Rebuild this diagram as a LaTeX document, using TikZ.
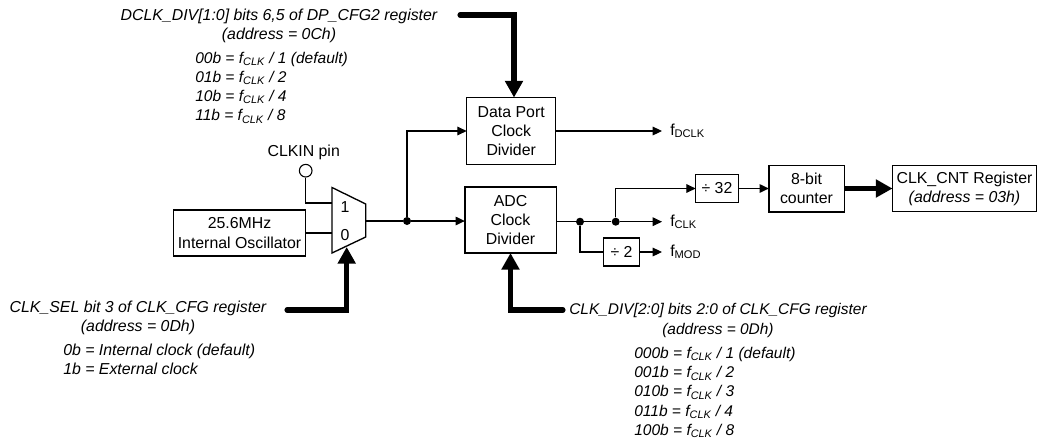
\documentclass[tikz,border=0pt]{standalone}
\usepackage{fontspec}
\setmainfont{Liberation Sans}
\usetikzlibrary{arrows.meta,positioning}

\begin{document}
\begin{tikzpicture}[x=0.75pt, y=-0.75pt, node distance=6pt and 6pt, every node/.style={font=\fontsize{11.9}{14.4}\selectfont}]
\tikzset{box/.style={draw, line width=1pt, align=center, inner sep=0pt, outer sep=0pt}}
\tikzset{note/.style={align=center, inner sep=0pt, font=\fontsize{11.9}{14.4}\selectfont\itshape}}
\tikzset{codes/.style={align=left, anchor=north west, inner sep=0pt, font=\fontsize{11.65}{14.4}\selectfont\itshape}}
\tikzset{arrow/.style={-{Triangle[length=7pt, width=6.5pt]}, line width=0.8pt}}
\tikzset{wire/.style={line width=0.8pt}}
\tikzset{bus/.style={-{Triangle[length=12.5pt, width=13pt]}, line width=3.8pt, line cap=round}}
\tikzset{dot/.style={circle, fill=black, inner sep=0pt, minimum size=6pt}}
\newcommand{\fsub}[1]{f\textsubscript{#1}}
\useasboundingbox (0,0) rectangle (1039,440);
\node[box, minimum width=99pt, minimum height=34.5pt] (osc) at (239.5,233) {25.6MHz\\Internal Oscillator};
\node[box, minimum width=66.8pt, minimum height=50pt] (dport) at (511.2,131) {Data Port\\Clock\\Divider};
\node[box, minimum width=68.5pt, minimum height=49.5pt] (adc) at (510.5,220) {ADC\\Clock\\Divider};
\node[box, minimum width=32pt, minimum height=21pt] (div32) at (717,188.5) {÷ 32};
\node[box, minimum width=56.5pt, minimum height=35pt] (cnt) at (806.5,188.5) {8-bit\\counter};
\node[box, minimum width=108pt, minimum height=34.5pt] (reg) at (964.5,188.5) {CLK\_CNT Register\\\textit{(address = 03h)}};
\node[box, minimum width=27pt, minimum height=21pt] (div2) at (621.5,252) {÷ 2};
\node[circle, draw, line width=0.8pt, minimum size=9.5pt, inner sep=0pt] (pin) at (305.7,170.7) {};
\node[above=3pt of pin, inner sep=0pt, xshift=-1.5pt] (pinlbl) {CLKIN pin};
% mux
\draw[line width=1pt] (332,187.5) -- (365.7,204) -- (365.7,237) -- (332,253) -- cycle;
\coordinate (mux1) at (332,203);
\coordinate (mux0) at (332,233);
\coordinate (muxout) at (365.7,221);
\coordinate (muxsel) at (346.7,247);
\node[inner sep=0pt] (lbl1) at (345,207.5) {1};
\node[inner sep=0pt] (lbl0) at (345,235) {0};
\node[dot] (j1) at (407,221) {};
\node[dot] (j2) at (580,221.7) {};
\node[dot] (j3) at (615.7,221.7) {};
\node[inner sep=0pt, anchor=west] (fdclk) at (670,131) {\fsub{DCLK}};
\node[inner sep=0pt, anchor=west] (fclk) at (670,221.7) {\fsub{CLK}};
\node[inner sep=0pt, anchor=west] (fmod) at (670,252) {\fsub{MOD}};
\draw[wire] (pin) |- (mux1);
\draw[wire] (osc.east |- mux0) -- (mux0);
\draw[wire] (muxout) -- (j1);
\draw[arrow] (j1) -- (adc.west |- j1);
\draw[arrow] (j1) |- (dport.west);
\draw[arrow, shorten >=6pt] (dport.east) -- (fdclk.west);
\draw[wire] (adc.east |- j2) -- (j2);
\draw[wire] (j2) -- (j3);
\draw[arrow, shorten >=6pt] (j3) -- (fclk.west);
\draw[arrow] (j3) |- (div32.west);
\draw[arrow] (div32) -- (cnt);
\draw[bus, line cap=butt] (cnt) -- (reg);
\draw[wire] (j2) |- (div2.west);
\draw[arrow, shorten >=6pt] (div2.east) -- (fmod.west);
% register notes
\node[note] (dnote) at (279,26) {DCLK\_DIV[1:0] bits 6,5 of DP\_CFG2 register\\(address = 0Ch)};
\node[codes] (dcodes) at (195,51.5) {00b = \fsub{CLK} / 1 (default)\\01b = \fsub{CLK} / 2\\10b = \fsub{CLK} / 4\\11b = \fsub{CLK} / 8};
\node[note] (snote) at (138,318) {CLK\_SEL bit 3 of CLK\_CFG register\\(address = 0Dh)};
\node[codes, font=\fontsize{11.9}{14.4}\selectfont\itshape] (scodes) at (63,344) {0b = Internal clock (default)\\1b = External clock};
\node[note, font=\fontsize{11.6}{14.4}\selectfont\itshape] (anote) at (718,320.5) {CLK\_DIV[2:0] bits 2:0 of CLK\_CFG register\\(address = 0Dh)};
\node[codes] (acodes) at (634,347) {000b = \fsub{CLK} / 1 (default)\\001b = \fsub{CLK} / 2\\010b = \fsub{CLK} / 3\\011b = \fsub{CLK} / 4\\100b = \fsub{CLK} / 8};
\coordinate (dstart) at (460,15);
\coordinate (dtip) at (514,97.5);
\coordinate (sstart) at (287,310);
\coordinate (astart) at (563,310);
\draw[bus] (dstart) -| (dtip);
\draw[bus] (sstart) -| (muxsel);
\draw[bus] (astart) -| (adc.south);
\end{tikzpicture}
\end{document}
